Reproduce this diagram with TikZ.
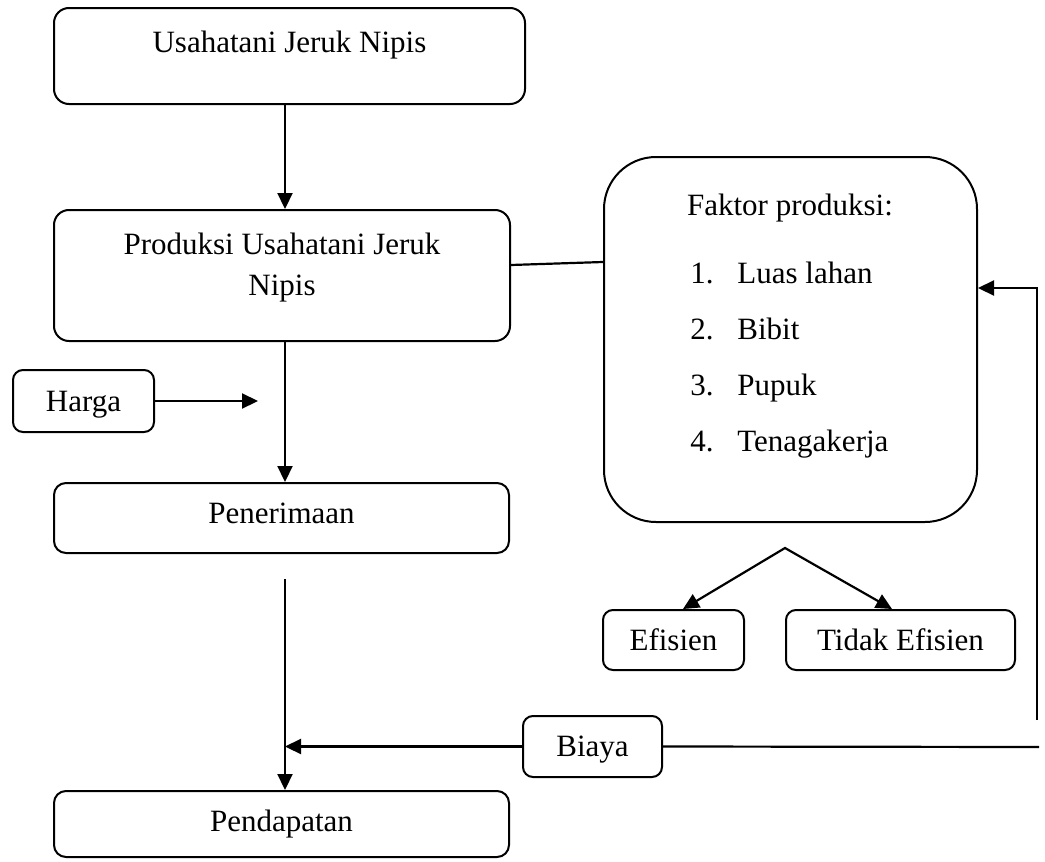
\documentclass[tikz,border=0pt]{standalone}
\usepackage{fontspec}
\setmainfont{Liberation Serif}
\usetikzlibrary{arrows.meta}
\begin{document}
\begin{tikzpicture}[x=0.5pt,y=-0.5pt,
  every node/.style={font=\fontsize{15.5}{20.5}\selectfont},
  box/.style={draw, line width=1pt, rounded corners=5pt, inner sep=0pt, align=center},
  bigbox/.style={box, rounded corners=7.5pt},
  ln/.style={line width=1.1pt},
  arr/.style={ln, -{Triangle[length=8pt,width=7.5pt]}},
  item/.style={anchor=base west, inner sep=0pt}]
\useasboundingbox (0,0) rectangle (1045,862);

% boxes
\node[bigbox, minimum width=235.5pt, minimum height=48pt,
      label={[yshift=5.5pt]center:Usahatani Jeruk Nipis}] (usaha) at (289.5,56) {};
\node[bigbox, minimum width=228pt, minimum height=65.5pt,
      label={[yshift=4pt, align=center]center:Produksi Usahatani Jeruk\\Nipis}] (prod) at (282,275.5) {};
\node[box, rounded corners=26pt, minimum width=186.5pt, minimum height=182.5pt] (fak) at (790.5,339.5) {};
\node[anchor=base, inner sep=0pt] (ftitle) at (790,215) {Faktor produksi:};
\node[item] (f1) at (690,283) {\makebox[23.5pt][l]{1.}Luas lahan};
\node[item] (f2) at (690,339) {\makebox[23.5pt][l]{2.}Bibit};
\node[item] (f3) at (690,395) {\makebox[23.5pt][l]{3.}Pupuk};
\node[item] (f4) at (690,451) {\makebox[23.5pt][l]{4.}Tenagakerja};
\node[box, text depth=0pt, minimum width=70.5pt, minimum height=31pt] (harga) at (83.5,401) {Harga};
\node[bigbox, rounded corners=6pt, text depth=5pt, minimum width=227.5pt, minimum height=35pt] (pen) at (281.5,518) {Penerimaan};
\node[bigbox, rounded corners=6pt, minimum width=227.5pt, minimum height=33pt] (pend) at (281.5,824) {Pendapatan};
\node[box, minimum width=70.5pt, minimum height=30pt] (efi) at (673.5,640) {Efisien};
\node[box, minimum width=114.5pt, minimum height=30pt] (tid) at (900.5,640) {Tidak Efisien};
\node[box, text depth=0pt, minimum width=69.5pt, minimum height=30.5pt] (biaya) at (592.5,746.5) {Biaya};

% helper coordinates
\coordinate (sx) at (285,0);
\coordinate (hend) at (258,401);
\coordinate (p2) at (285,579);
\coordinate (bend) at (1039,747);
\coordinate (r1) at (1037,720);
\coordinate (r2) at (1037,288);
\coordinate (apex) at (785,548);

% connectors
\draw[arr] (usaha.south -| sx) -- (prod.north -| sx);
\draw[ln] ([yshift=5.25pt]prod.east) -- ([yshift=38.75pt]fak.west);
\draw[arr] (prod.south -| sx) -- (pen.north -| sx);
\draw[arr] (harga.east) -- (hend);
\draw[arr] (p2) -- (pend.north -| sx);
\draw[arr] (biaya.west) -- (biaya.west -| sx);
\draw[ln] (biaya.east) -- (bend);
\draw[arr] (r1) -- (r2) -- (fak.east |- r2);
\draw[ln, {Triangle[length=8pt,width=7.5pt]}-{Triangle[length=8pt,width=7.5pt]}]
  ([xshift=4.75pt]efi.north) -- (apex) -- ([xshift=-4.25pt]tid.north);
\end{tikzpicture}
\end{document}
